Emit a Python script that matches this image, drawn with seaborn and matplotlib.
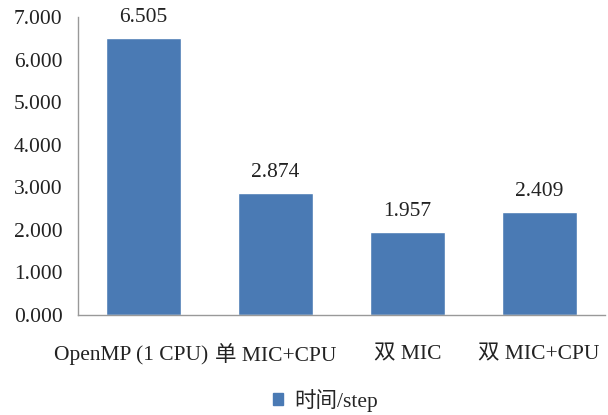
import matplotlib
matplotlib.use("Agg")
import matplotlib.pyplot as plt
import matplotlib.transforms as mtransforms
import seaborn as sns
import pandas as pd

categories = ["OpenMP (1 CPU)", "单 MIC+CPU", "双 MIC", "双 MIC+CPU"]
values = [6.505, 2.874, 1.957, 2.409]
yticks = [0, 1, 2, 3, 4, 5, 6, 7]
series_name = "时间/step"

sns.set_theme(style="white")
plt.rcParams['font.family'] = ['Liberation Serif', 'Noto Sans CJK SC']

df = pd.DataFrame({"cat": categories, "val": values})
fig = plt.figure(figsize=(6.08, 4.15), dpi=100)
ax = fig.add_axes([0.128, 0.241, 0.867, 0.718])
color = "#4a7ab4"
sns.barplot(data=df, x="cat", y="val", color=color, width=0.57, ax=ax, saturation=1)
ax.set_ylim(0, 7)
ax.set_yticks(yticks)
ax.set_yticklabels([f"{t:.3f}" for t in yticks], fontsize=15.5, color="#222222")
ax.tick_params(axis='x', labelsize=15.5, colors="#222222", pad=22, length=0)
ax.tick_params(axis='y', length=0, pad=11)
ax.set_xlabel("")
ax.set_ylabel("")
for s in ["top", "right"]:
    ax.spines[s].set_visible(False)
for s in ["left", "bottom"]:
    ax.spines[s].set_color("#999999")
    ax.spines[s].set_linewidth(1)
# shift first label left as in the reference
lbl0 = ax.get_xticklabels()[0]
lbl0.set_transform(lbl0.get_transform() + mtransforms.ScaledTranslation(-13 / 100, 0, fig.dpi_scale_trans))
for p, v in zip(ax.patches, values):
    ax.annotate(f"{v:.3f}", (p.get_x() + p.get_width() / 2, v), xytext=(0, 8),
                textcoords="offset points", ha="center", va="bottom", fontsize=15.5, color="#222222")
from matplotlib.patches import Patch
fig.legend(handles=[Patch(color=color, label=series_name)], loc="center", bbox_to_anchor=(0.535, 0.036),
           frameon=False, fontsize=15.5, handlelength=0.5, handleheight=0.5, handletextpad=0.5)
fig.savefig("out.png", dpi=100)
